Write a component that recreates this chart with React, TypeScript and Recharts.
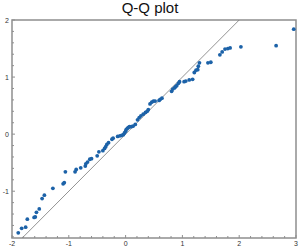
import React from "react";
import { ReferenceArea, ReferenceLine, Scatter, ScatterChart, XAxis, YAxis } from "recharts";

// theoretical quantiles (x) vs. sample quantiles (y)
const theoretical = [
  -1.89, -1.83, -1.76, -1.73, -1.61, -1.59, -1.57, -1.52, -1.47, -1.43, -1.28, -1.1, -1.08, -1.06, -0.89,
  -0.87, -0.79, -0.71, -0.7, -0.67, -0.63, -0.6, -0.5, -0.47, -0.4, -0.37, -0.35, -0.33, -0.3, -0.24,
  -0.22, -0.14, -0.1, -0.07, -0.04, -0.02, 0.0, 0.01, 0.03, 0.05, 0.07, 0.1, 0.13, 0.17, 0.21, 0.24, 0.27,
  0.31, 0.35, 0.38, 0.4, 0.43, 0.46, 0.49, 0.52, 0.59, 0.61, 0.64, 0.81, 0.83, 0.86, 0.88, 0.9, 0.93,
  0.95, 1.03, 1.06, 1.12, 1.18, 1.21, 1.24, 1.27, 1.28, 1.3, 1.45, 1.5, 1.66, 1.7, 1.75, 1.8, 1.84, 2.03,
  2.65, 2.96,
];
const sample = [
  -1.73, -1.65, -1.63, -1.49, -1.46, -1.45, -1.37, -1.31, -1.13, -1.07, -0.95, -0.87, -0.85, -0.66, -0.66,
  -0.62, -0.59, -0.56, -0.52, -0.49, -0.44, -0.43, -0.38, -0.31, -0.29, -0.25, -0.22, -0.18, -0.15, -0.09,
  -0.07, -0.04, -0.03, -0.02, -0.01, 0.02, 0.05, 0.08, 0.1, 0.12, 0.13, 0.13, 0.14, 0.17, 0.25, 0.29, 0.32,
  0.35, 0.38, 0.4, 0.43, 0.53, 0.56, 0.58, 0.58, 0.59, 0.61, 0.63, 0.75, 0.79, 0.81, 0.83, 0.85, 0.89,
  0.92, 0.92, 0.93, 0.95, 0.96, 1.08, 1.12, 1.13, 1.19, 1.25, 1.25, 1.26, 1.39, 1.44, 1.49, 1.5, 1.51, 1.53,
  1.55, 1.84,
];

const xTicks = [
  -2, -1.8, -1.6, -1.4, -1.2, -1, -0.8, -0.6, -0.4, -0.2, 0, 0.2, 0.4, 0.6, 0.8, 1, 1.2, 1.4, 1.6, 1.8, 2,
  2.2, 2.4, 2.6, 2.8, 3,
];
const yTicks = [
  -1.8, -1.6, -1.4, -1.2, -1, -0.8, -0.6, -0.4, -0.2, 0, 0.2, 0.4, 0.6, 0.8, 1, 1.2, 1.4, 1.6, 1.8, 2,
];
const xDomain: [number, number] = [-2, 3];
const yDomain: [number, number] = [-1.82, 2];

const points = theoretical.map((x, i) => ({ x, y: sample[i] }));

const FRAME = "#8f8f8f";
const DOT = "#1c62a8";
const FONT = "Liberation Sans, Arial, sans-serif";

const isInt = (v: number) => Math.abs(v - Math.round(v)) < 1e-6;

// tick = short inward mark on the frame + label at whole numbers
function makeTick(side: "bottom" | "top" | "left" | "right") {
  return (props: any) => {
    const { x, y, payload } = props;
    const v = Number(payload.value);
    const len = isInt(v) ? 3 : 2;
    let line;
    if (side === "bottom") line = <line x1={x} x2={x} y1={y} y2={y - len} />;
    else if (side === "top") line = <line x1={x} x2={x} y1={y} y2={y + len} />;
    else if (side === "left") line = <line x1={x} x2={x + len} y1={y} y2={y} />;
    else line = <line x1={x} x2={x - len} y1={y} y2={y} />;
    return (
      <g>
        <g stroke={FRAME} strokeWidth={1}>{line}</g>
        {side === "bottom" && isInt(v) ? (
          <text x={x} y={y + 8} textAnchor="middle" fontSize={7} fill="#333" fontFamily={FONT}>
            {Math.round(v)}
          </text>
        ) : null}
        {side === "left" && isInt(v) ? (
          <text x={x - 3} y={y + 2.5} textAnchor="end" fontSize={7} fill="#333" fontFamily={FONT}>
            {Math.round(v)}
          </text>
        ) : null}
      </g>
    );
  };
}

export default function App() {
  return (
    <div style={{ position: "absolute", left: 0, top: 0, width: 300, height: 247, background: "#fff" }}>
      <ScatterChart width={300} height={247} margin={{ top: 20, right: 4, left: 0, bottom: 0 }}>
        <XAxis
          xAxisId="b"
          type="number"
          dataKey="x"
          domain={xDomain}
          ticks={xTicks}
          interval={0}
          allowDataOverflow
          height={9}
          tickSize={0}
          tickMargin={0}
          tick={makeTick("bottom")}
          axisLine={false}
          tickLine={false}
        />
        <XAxis
          xAxisId="t"
          orientation="top"
          type="number"
          dataKey="x"
          domain={xDomain}
          ticks={xTicks}
          interval={0}
          allowDataOverflow
          height={0}
          tickSize={0}
          tickMargin={0}
          tick={makeTick("top")}
          axisLine={false}
          tickLine={false}
        />
        <YAxis
          yAxisId="l"
          type="number"
          dataKey="y"
          domain={yDomain}
          ticks={yTicks}
          interval={0}
          allowDataOverflow
          width={12}
          tickSize={0}
          tickMargin={0}
          tick={makeTick("left")}
          axisLine={false}
          tickLine={false}
        />
        <YAxis
          yAxisId="r"
          orientation="right"
          type="number"
          dataKey="y"
          domain={yDomain}
          ticks={yTicks}
          interval={0}
          allowDataOverflow
          width={0}
          tickSize={0}
          tickMargin={0}
          tick={makeTick("right")}
          axisLine={false}
          tickLine={false}
        />
        <ReferenceArea
          xAxisId="b"
          yAxisId="l"
          x1={xDomain[0]}
          x2={xDomain[1]}
          y1={yDomain[0]}
          y2={yDomain[1]}
          fill="none"
          fillOpacity={0}
          stroke={FRAME}
          strokeWidth={1.5}
          strokeOpacity={1}
          ifOverflow="visible"
        />
        <ReferenceLine
          xAxisId="b"
          yAxisId="l"
          segment={[
            { x: yDomain[0], y: yDomain[0] },
            { x: yDomain[1], y: yDomain[1] },
          ]}
          stroke="#777"
          strokeWidth={0.8}
          ifOverflow="hidden"
        />
        <Scatter
          xAxisId="b"
          yAxisId="l"
          data={points}
          isAnimationActive={false}
          shape={(p: any) => <circle cx={p.cx} cy={p.cy} r={1.9} fill={DOT} />}
        />
      </ScatterChart>
      <div
        style={{
          position: "absolute",
          left: 0,
          top: 0,
          width: 300,
          textAlign: "center",
          fontSize: 15,
          lineHeight: "16px",
          fontFamily: FONT,
          color: "#111",
        }}
      >
        Q-Q plot
      </div>
    </div>
  );
}
